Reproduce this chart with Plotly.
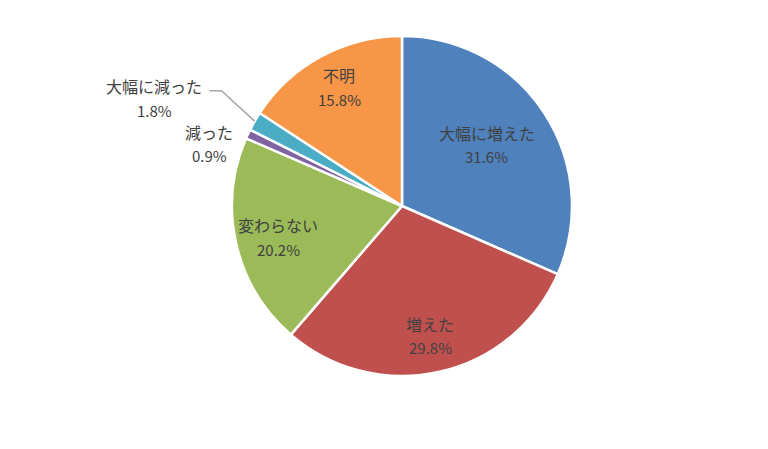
import math
import plotly.graph_objects as go

labels = ["大幅に増えた", "増えた", "変わらない", "減った", "大幅に減った", "不明"]
values = [31.6, 29.8, 20.2, 0.9, 1.8, 15.8]
colors = ["#4F81BD", "#C0504D", "#9BBB59", "#8064A2", "#4BACC6", "#F79646"]

W, H = 768, 449
OFF = 8                              # page body margin
CX, CY, R = 402 - OFF, 206 - OFF, 170  # pie centre and radius in pixels
# label placement: distance from centre (x R) and angle offset from slice middle (deg)
label_r = [0.615, 0.78, 0.75, 1.19, 1.59, 0.79]
label_da = [-2.6, 0.4, -1.4, -7.2, -6.4, 0.6]
leader = [False, False, False, False, True, False]

FONT = "Noto Sans CJK JP"
TXT = "#404040"


def px(x, y):
    return x / W, 1 - y / H


fig = go.Figure()
fig.add_trace(go.Pie(
    labels=labels,
    values=values,
    sort=False,
    direction="clockwise",
    rotation=0,
    marker=dict(colors=colors, line=dict(color="white", width=2.5)),
    textinfo="none",
    hoverinfo="label+value",
    showlegend=False,
    domain=dict(x=[(CX - R) / W, (CX + R) / W], y=[1 - (CY + R) / H, 1 - (CY - R) / H]),
))

total = sum(values)
cum = 0
for lab, v, rf, da, ld in zip(labels, values, label_r, label_da, leader):
    mid = (cum + v / 2) / total * 2 * math.pi
    cum += v
    a = mid + math.radians(da)
    lx = CX + rf * R * math.sin(a)
    ly = CY - rf * R * math.cos(a)
    x1, y1 = px(lx, ly - 12)
    x2, y2 = px(lx, ly + 12)
    fig.add_annotation(x=x1, y=y1, xref="paper", yref="paper", text=lab, showarrow=False,
                       xanchor="center", yanchor="middle",
                       font=dict(family=FONT, size=16, color=TXT))
    fig.add_annotation(x=x2, y=y2, xref="paper", yref="paper", text=f"{v:.1f}%", showarrow=False,
                       xanchor="center", yanchor="middle",
                       font=dict(family=FONT, size=15, color=TXT))
    if ld:
        ex, ey = CX + R * math.sin(mid), CY - R * math.cos(mid)
        b = mid + math.radians(2.6)
        kx, ky = CX + 1.26 * R * math.sin(b), CY - 1.26 * R * math.cos(b)
        pts = [px(ex, ey), px(kx, ky), px(kx - 12, ky)]
        fig.add_shape(type="path", xref="paper", yref="paper",
                      path="M {} {} L {} {} L {} {}".format(*[c for p in pts for c in p]),
                      line=dict(color="#A6A6A6", width=1.5))

fig.update_layout(
    width=W, height=H,
    margin=dict(l=0, r=0, t=0, b=0),
    paper_bgcolor="white",
)

fig.write_html("out.html")
